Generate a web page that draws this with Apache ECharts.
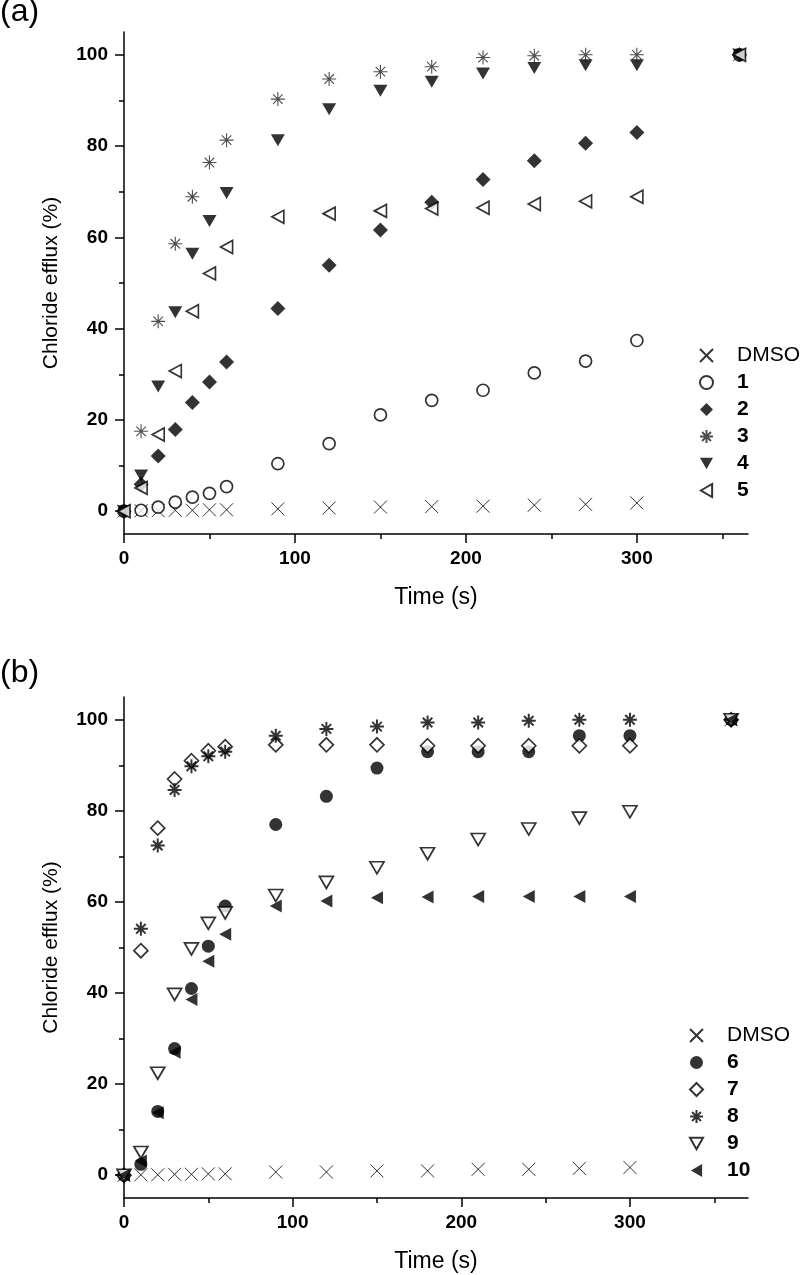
<!DOCTYPE html>
<html>
<head>
<meta charset="utf-8">
<script src="https://cdn.jsdelivr.net/npm/echarts@6/dist/echarts.min.js"></script>
<style>
html,body{margin:0;padding:0;background:#fff;}
#c{width:800px;height:1275px;}
</style>
</head>
<body>
<div id="c"></div>
<script>
// ---- data ----
const times = [0, 10, 20, 30, 40, 50, 60, 90, 120, 150, 180, 210, 240, 270, 300, 360];

// panel (a)
const namesA = ['DMSO', '1', '2', '3', '4', '5'];
const dmsoA = [0, 0.1, 0.1, 0.2, 0.2, 0.3, 0.3, 0.5, 0.7, 0.9, 1.0, 1.1, 1.3, 1.5, 1.8, 100];
const c1 = [0, 0.2, 0.9, 2.0, 3.1, 3.9, 5.4, 10.4, 14.8, 21.1, 24.3, 26.5, 30.3, 32.9, 37.4, 100];
const c2 = [0, 5.9, 12.1, 17.9, 23.8, 28.3, 32.7, 44.4, 53.9, 61.6, 67.7, 72.7, 76.8, 80.6, 83.0, 100];
const c3 = [0, 17.5, 41.6, 58.6, 68.9, 76.4, 81.3, 90.3, 94.7, 96.3, 97.4, 99.4, 99.8, 100, 100, 100];
const c4 = [0, 7.8, 27.3, 43.6, 56.4, 63.6, 69.7, 81.3, 88.1, 92.1, 94.1, 95.9, 97.1, 97.7, 97.7, 100];
const c5 = [0, 5.1, 16.8, 30.7, 43.8, 52.1, 57.9, 64.5, 65.2, 65.8, 66.3, 66.5, 67.3, 67.9, 68.9, 100];

// panel (b)
const namesB = ['DMSO', '6', '7', '8', '9', '10'];
const dmsoB = [0, 0.1, 0.1, 0.2, 0.2, 0.3, 0.3, 0.7, 0.7, 0.95, 0.95, 1.3, 1.3, 1.5, 1.7, 100];
const c6 = [0, 2.4, 14.0, 27.8, 41.0, 50.3, 59.1, 77.0, 83.2, 89.4, 93.0, 93.0, 93.0, 96.5, 96.5, 100];
const c7 = [0, 49.3, 76.2, 87.0, 91.0, 93.2, 94.1, 94.5, 94.5, 94.5, 94.3, 94.3, 94.3, 94.3, 94.3, 100];
const c8 = [0, 54.1, 72.4, 84.6, 89.8, 92.0, 93.0, 96.5, 98.0, 98.5, 99.4, 99.4, 99.8, 100, 100, 100];
const c9 = [0, 5.0, 22.4, 39.7, 49.7, 55.3, 57.6, 61.4, 64.3, 67.5, 70.6, 73.7, 76.0, 78.4, 79.8, 100];
const c10 = [0, 3.1, 13.7, 27.0, 38.6, 47.0, 52.9, 59.1, 60.2, 60.9, 61.1, 61.2, 61.2, 61.2, 61.2, 100];

// ticks
const xMajor = [0, 100, 200, 300];
const xMinor = [50, 150, 250, 350];
const yMajor = [0, 20, 40, 60, 80, 100];
const yMinor = [10, 30, 50, 70, 90];

// ---- style ----
const FONT = '"Liberation Sans", Arial, Helvetica, sans-serif';
const SYM = {
  cross: 'path://M0,0L10,10M10,0L0,10',
  star: 'path://M5,0L5,10M0,5L10,5M1.6,1.6L8.4,8.4M8.4,1.6L1.6,8.4',
  down: 'path://M0,0L10,0L5,8.66Z',
  left: 'path://M0,5L8.66,0L8.66,10Z'
};
const zip = v => times.map((t, i) => [t, v[i]]);

function ser(name, data, gi, symbol, size, style) {
  return {
    type: 'scatter', name: name, data: zip(data),
    xAxisIndex: gi * 2, yAxisIndex: gi * 2,
    symbol: symbol, symbolSize: size, itemStyle: style,
    emphasis: { disabled: true }
  };
}
const lineSt = (c, w) => ({ color: 'rgba(0,0,0,0)', borderColor: c, borderWidth: w });
const hollow = { color: '#fff', borderColor: '#000', borderWidth: 1.7 };
const solid = { color: '#000' };

function xAxes(gi, max) {
  return [
    { type: 'value', gridIndex: gi, position: 'bottom', min: 0, max: max,
      axisLine: { show: true, onZero: false, lineStyle: { color: '#000', width: 1.5 } },
      axisTick: { show: true, customValues: xMajor, length: 9, lineStyle: { color: '#000', width: 1.5 } },
      axisLabel: { customValues: xMajor, color: '#000', fontWeight: 'bold', fontSize: 19, fontFamily: FONT, margin: 15 },
      splitLine: { show: false },
      name: 'Time (s)', nameLocation: 'middle', nameGap: 52,
      nameTextStyle: { color: '#000', fontSize: 23, fontFamily: FONT } },
    { type: 'value', gridIndex: gi, position: 'bottom', min: 0, max: max,
      axisLine: { show: false, onZero: false },
      axisTick: { show: true, customValues: xMinor, length: 5, lineStyle: { color: '#000', width: 1.5 } },
      axisLabel: { show: false }, splitLine: { show: false } }
  ];
}
function yAxes(gi) {
  return [
    { type: 'value', gridIndex: gi, position: 'left', min: -5, max: 105,
      axisLine: { show: true, onZero: false, lineStyle: { color: '#000', width: 1.5 } },
      axisTick: { show: true, customValues: yMajor, length: 9, lineStyle: { color: '#000', width: 1.5 } },
      axisLabel: { customValues: yMajor, color: '#000', fontWeight: 'bold', fontSize: 19, fontFamily: FONT, margin: 16 },
      splitLine: { show: false },
      name: 'Chloride efflux (%)', nameLocation: 'middle', nameGap: 62, nameRotate: 90,
      nameTextStyle: { color: '#000', fontSize: 21, fontFamily: FONT } },
    { type: 'value', gridIndex: gi, position: 'left', min: -5, max: 105,
      axisLine: { show: false, onZero: false },
      axisTick: { show: true, customValues: yMinor, length: 5, lineStyle: { color: '#000', width: 1.5 } },
      axisLabel: { show: false }, splitLine: { show: false } }
  ];
}
function legend(names, left, top) {
  return {
    orient: 'vertical', left: left, top: top, data: names, padding: 0,
    itemWidth: 13, itemHeight: 13, itemGap: 6, selectedMode: false,
    formatter: n => n === 'DMSO' ? '{n|DMSO}' : '{b|' + n + '}',
    textStyle: {
      color: '#000', fontFamily: FONT,
      rich: {
        n: { fontSize: 21, fontWeight: 'normal', lineHeight: 24, padding: [0, 0, 0, 19], fontFamily: FONT, color: '#000' },
        b: { fontSize: 21, fontWeight: 'bold', lineHeight: 24, padding: [0, 0, 0, 19], fontFamily: FONT, color: '#000' }
      }
    }
  };
}

const chart = echarts.init(document.getElementById('c'), null, { renderer: 'canvas' });
chart.setOption({
  animation: false,
  backgroundColor: '#fff',
  title: [
    { text: '(a)', left: 0, top: -4, padding: 0, textStyle: { fontSize: 32, fontWeight: 'normal', color: '#000', fontFamily: FONT } },
    { text: '(b)', left: 0, top: 657, padding: 0, textStyle: { fontSize: 32, fontWeight: 'normal', color: '#000', fontFamily: FONT } }
  ],
  grid: [
    { left: 124, right: 52, top: 32, height: 502 },
    { left: 124, right: 52, top: 697, height: 501 }
  ],
  xAxis: xAxes(0, 365).concat(xAxes(1, 370)),
  yAxis: yAxes(0).concat(yAxes(1)),
  legend: [legend(namesA, 699, 345), legend(namesB, 689, 1025)],
  series: [
    ser('DMSO', dmsoA, 0, SYM.cross, 13, lineSt('#000', 1)),
    ser('1', c1, 0, 'circle', 12, hollow),
    ser('2', c2, 0, 'diamond', 15, solid),
    ser('3', c3, 0, SYM.star, 14, lineSt('#222', 1.1)),
    ser('4', c4, 0, SYM.down, [14, 12], solid),
    ser('5', c5, 0, SYM.left, [12, 13], hollow),
    ser('DMSO', dmsoB, 1, SYM.cross, 13, lineSt('#000', 1)),
    ser('6', c6, 1, 'circle', 13, solid),
    ser('7', c7, 1, 'diamond', 14, hollow),
    ser('8', c8, 1, SYM.star, 14, lineSt('#000', 2)),
    ser('9', c9, 1, SYM.down, [14, 12], hollow),
    ser('10', c10, 1, SYM.left, [12, 13], solid)
  ]
});
</script>
</body>
</html>
